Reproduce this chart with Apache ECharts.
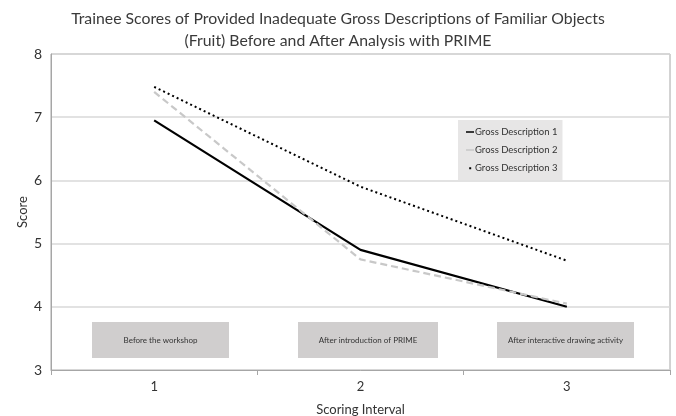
<!DOCTYPE html>
<html>
<head>
<meta charset="utf-8">
<script src="https://cdn.jsdelivr.net/npm/echarts@6/dist/echarts.min.js"></script>
<style>
  html, body { margin: 0; padding: 0; background: #fff; }
  #chart { width: 676px; height: 416px; }
</style>
</head>
<body>
<div id="chart"></div>
<script>
// Scoring intervals on the x axis
const intervals = ['1', '2', '3'];

// Mean trainee score for each gross description at each interval
const description1 = [6.95, 4.9, 4.0];
const description2 = [7.4, 4.75, 4.05];
const description3 = [7.48, 5.9, 4.73];

const seriesNames = ['Gross Description 1', 'Gross Description 2', 'Gross Description 3'];

// Labels for the stage boxes under each interval
const stageLabels = ['Before the workshop', 'After introduction of PRIME', 'After interactive drawing activity'];

const FONT = 'Lato, "Open Sans", sans-serif';

const chart = echarts.init(document.getElementById('chart'), null, { renderer: 'canvas' });

const stageBoxes = [
  { x: 92, w: 137 },
  { x: 298, w: 140 },
  { x: 497, w: 137 }
];

// Legend swatches: a short bar, and a small dot; the corner points keep the dot small inside the icon box
const barIcon = 'path://M0,0L0.01,0M0,10L0.01,10M0,4L10,4L10,6L0,6Z';
const dotIcon = 'path://M0,0L0.01,0M0,10L0.01,10M10,0L10.01,0M4,4L6.5,4L6.5,6.5L4,6.5Z';

chart.setOption({
  animation: false,
  backgroundColor: '#ffffff',
  title: {
    text: 'Trainee Scores of Provided Inadequate Gross Descriptions of Familiar Objects\n(Fruit) Before and After Analysis with PRIME',
    left: 'center',
    top: 3,
    textStyle: { fontFamily: FONT, fontSize: 15.8, fontWeight: 'normal', color: '#3a3a3a', lineHeight: 22, align: 'center' }
  },
  grid: {
    left: 51, right: 6, top: 54, bottom: 46,
    containLabel: false,
    outerBoundsMode: 'none',
    show: true, borderColor: '#a6a6a6', borderWidth: 1
  },
  legend: {
    orient: 'vertical',
    left: 458, top: 120,
    itemGap: 8,
    itemWidth: 8,
    itemHeight: 10,
    padding: [7, 5, 7, 8],
    backgroundColor: '#e7e6e6',
    textStyle: { fontFamily: FONT, fontSize: 9.5, color: '#333', padding: [0, 0, 0, -4] },
    data: [
      { name: seriesNames[0], icon: barIcon, itemStyle: { color: '#000' } },
      { name: seriesNames[1], icon: barIcon, itemStyle: { color: '#c8c8c8' } },
      { name: seriesNames[2], icon: dotIcon, itemStyle: { color: '#000' } }
    ]
  },
  xAxis: {
    type: 'category',
    data: intervals,
    boundaryGap: true,
    name: 'Scoring Interval',
    nameLocation: 'middle',
    nameGap: 33,
    nameMoveOverlap: false,
    nameTextStyle: { fontFamily: FONT, fontSize: 13, color: '#333' },
    axisLine: { lineStyle: { color: '#a6a6a6', width: 1 } },
    axisTick: { show: true, length: 5, lineStyle: { color: '#a6a6a6' } },
    axisLabel: { fontFamily: FONT, fontSize: 13, color: '#333', margin: 10 }
  },
  yAxis: {
    type: 'value',
    min: 3, max: 8, interval: 1,
    name: 'Score',
    nameLocation: 'middle',
    nameGap: 22,
    nameMoveOverlap: false,
    nameTextStyle: { fontFamily: FONT, fontSize: 13, color: '#333' },
    axisLine: { show: true, lineStyle: { color: '#a6a6a6' } },
    axisTick: { show: false },
    axisLabel: { fontFamily: FONT, fontSize: 14, color: '#333', margin: 9 },
    splitLine: { lineStyle: { color: '#d9d9d9', width: 1.5 } }
  },
  graphic: stageBoxes.map((b, i) => ({
    type: 'group',
    left: b.x, top: 322,
    children: [
      { type: 'rect', shape: { x: 0, y: 0, width: b.w, height: 36 }, style: { fill: '#d0cece' } },
      { type: 'text', x: b.w / 2, y: 18,
        style: { text: stageLabels[i], fontFamily: FONT, fontSize: 8, fill: '#333', align: 'center', verticalAlign: 'middle' } }
    ]
  })),
  series: [
    { name: seriesNames[0], type: 'line', data: description1, symbol: 'none',
      lineStyle: { color: '#000', width: 2.2, type: 'solid' }, itemStyle: { color: '#000' } },
    { name: seriesNames[1], type: 'line', data: description2, symbol: 'none',
      lineStyle: { color: '#c8c8c8', width: 2.2, type: [7, 4] }, itemStyle: { color: '#c8c8c8' } },
    { name: seriesNames[2], type: 'line', data: description3, symbol: 'none',
      lineStyle: { color: '#000', width: 2, type: [2, 3] }, itemStyle: { color: '#000' } }
  ]
});
</script>
</body>
</html>
